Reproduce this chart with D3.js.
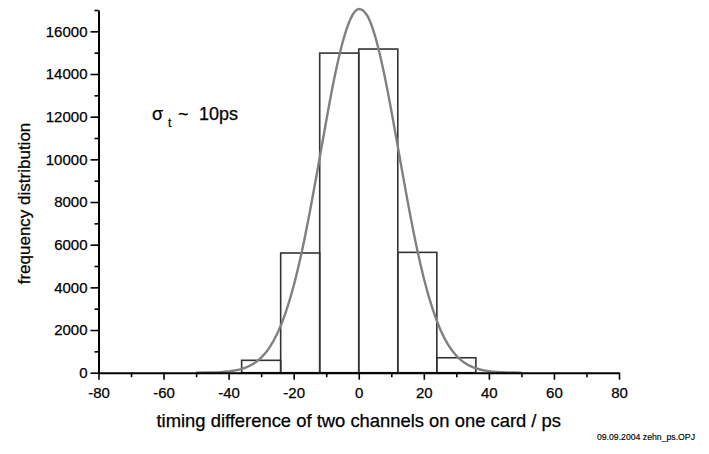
<!DOCTYPE html>
<html>
<head>
<meta charset="utf-8">
<script src="https://cdn.jsdelivr.net/npm/d3@7/dist/d3.min.js"></script>
<style>
  html, body { margin: 0; padding: 0; background: #ffffff; }
  svg { display: block; font-family: "Liberation Sans", Arial, sans-serif; }
  svg text { stroke: #000; stroke-width: 0.25px; }
</style>
</head>
<body>
<svg id="chart" width="709" height="454"></svg>
<script>
// Histogram bins (ps) and counts
const binStarts = [-36, -24, -12, 0, 12, 24];
const binEnds   = [-24, -12, 0, 12, 24, 36];
const counts    = [580, 5610, 14980, 15170, 5640, 700];

// Fitted curve
const curveX = [-50, -47.5, -45, -42.5, -40, -37.5, -35, -32.5, -30, -27.5, -25, -22.5, -20, -17.5, -15, -12.5, -10, -7.5, -5, -2.5,
                0, 2.5, 5, 7.5, 10, 12.5, 15, 17.5, 20, 22.5, 25, 27.5, 30, 32.5, 35, 37.5, 40, 42.5, 45, 47.5, 50];
const curveY = [3, 6, 14, 29, 61, 119, 225, 407, 704, 1165, 1846, 2805, 4077, 5672, 7563, 9650, 11800, 13808, 15466, 16593,
                17045, 16766, 15791, 14240, 12300, 10170, 8053, 6104, 4430, 3081, 2050, 1306, 797, 466, 261, 140, 72, 35, 17, 7, 3];

// Tick labels
const xTicks = [-80, -60, -40, -20, 0, 20, 40, 60, 80];
const xMinorTicks = [-70, -50, -30, -10, 10, 30, 50, 70];
const yTicks = [0, 2000, 4000, 6000, 8000, 10000, 12000, 14000, 16000];
const yMinorTicks = [1000, 3000, 5000, 7000, 9000, 11000, 13000, 15000, 17000];

const xTitle = "timing difference of two channels on one card / ps";
const yTitle = "frequency distribution";
const footer = "09.09.2004 zehn_ps.OPJ";

const svg = d3.select("#chart");
const x = d3.scaleLinear().domain([-80, 80]).range([98.5, 619]);
const y = d3.scaleLinear().domain([0, 17000]).range([372.7, 10]);

// Bars
svg.append("g").selectAll("rect")
  .data(counts)
  .join("rect")
  .attr("x", (d, i) => x(binStarts[i]))
  .attr("width", (d, i) => x(binEnds[i]) - x(binStarts[i]))
  .attr("y", d => y(d))
  .attr("height", d => y(0) - y(d))
  .attr("fill", "none")
  .attr("stroke", "#333")
  .attr("stroke-width", 1.6);

// Curve
const pts = curveX.map((v, i) => [v, curveY[i]]);
svg.append("path")
  .datum(pts)
  .attr("fill", "none")
  .attr("stroke", "#808080")
  .attr("stroke-width", 2.4)
  .attr("d", d3.line().x(d => x(d[0])).y(d => y(d[1])).curve(d3.curveMonotoneX));

const fmt = d => String(d);

// Y axis
const yAxisG = svg.append("g").attr("transform", `translate(${x(-80)},0)`);
yAxisG.call(d3.axisLeft(y).tickValues(yTicks).tickFormat(fmt).tickSize(8).tickPadding(3).tickSizeOuter(0));
yAxisG.append("g").call(d3.axisLeft(y).tickValues(yMinorTicks).tickFormat("").tickSize(4).tickSizeOuter(0))
  .select(".domain").remove();

// X axis
const xAxisG = svg.append("g").attr("transform", `translate(0,${y(0)})`);
xAxisG.call(d3.axisBottom(x).tickValues(xTicks).tickFormat(fmt).tickSize(7).tickPadding(8).tickSizeOuter(0));
xAxisG.append("g").call(d3.axisBottom(x).tickValues(xMinorTicks).tickFormat("").tickSize(4.5).tickSizeOuter(0))
  .select(".domain").remove();

svg.selectAll(".domain").attr("stroke", "#000").attr("stroke-width", 2);
svg.selectAll(".tick line").attr("stroke", "#000").attr("stroke-width", 1.6);
svg.selectAll(".tick text").attr("font-size", 15).attr("fill", "#000")
  .attr("font-family", "'Liberation Sans', Arial, sans-serif");

// Titles
svg.append("text")
  .attr("x", (x(-80) + x(80)) / 2)
  .attr("y", 427)
  .attr("text-anchor", "middle")
  .attr("font-size", 18.4)
  .attr("fill", "#000")
  .text(xTitle);

svg.append("text")
  .attr("transform", "translate(30,203.5) rotate(-90)")
  .attr("text-anchor", "middle")
  .attr("font-size", 17)
  .attr("fill", "#000")
  .text(yTitle);

// Annotation
const ann = svg.append("text").attr("x", 152).attr("y", 120).attr("font-size", 18).attr("fill", "#000");
ann.append("tspan").text("σ");
ann.append("tspan").attr("x", 168).attr("dy", 7).attr("font-size", 12).text("t");
ann.append("tspan").attr("x", 178).attr("dy", -7).text("~");
ann.append("tspan").attr("x", 199).text("10ps");

// Footer
svg.append("text")
  .attr("x", 695)
  .attr("y", 440)
  .attr("text-anchor", "end")
  .attr("font-size", 8.7)
  .attr("fill", "#000")
  .style("stroke-width", "0.15px")
  .text(footer);
</script>
</body>
</html>
